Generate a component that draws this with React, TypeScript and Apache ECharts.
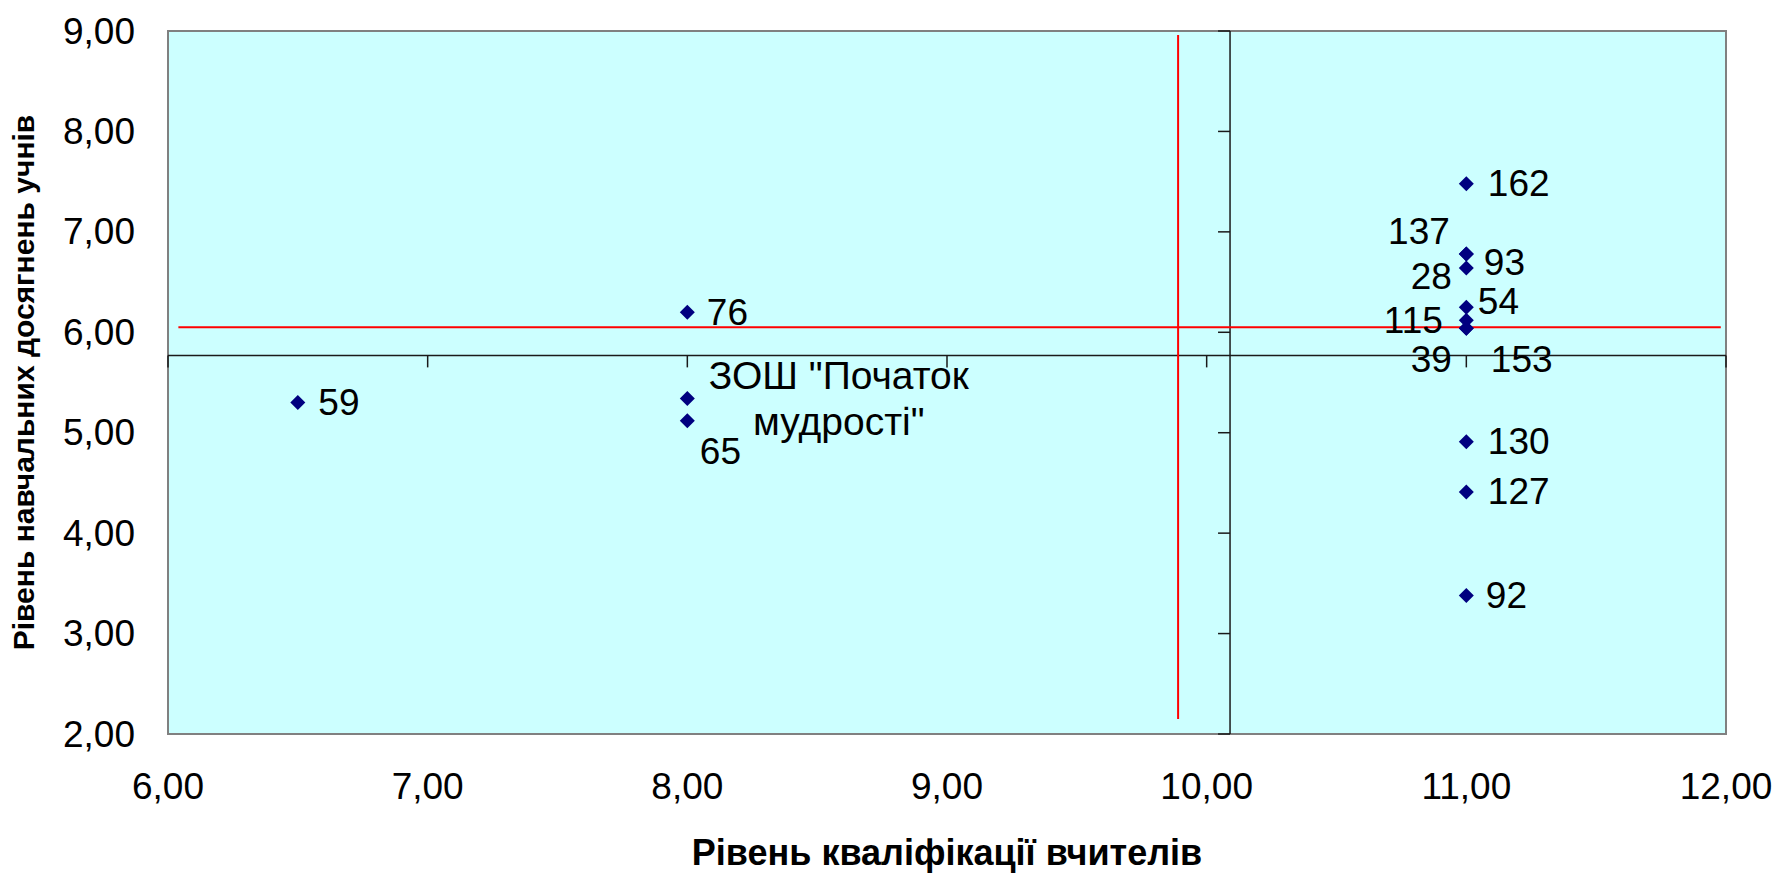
import React, { useEffect, useRef } from 'react';
import * as echarts from 'echarts';

// ---- data ----
const schoolNames = ['59', '76', 'ЗОШ "Початок\nмудрості"', '65', '162', '137', '93', '28', '54', '115', '39', '153', '130', '127', '92'];
const teacherLevel = [6.5, 8, 8, 8, 11, 11, 11, 11, 11, 11, 11, 11, 11, 11, 11];
const studentLevel = [5.3, 6.2, 5.34, 5.12, 7.48, 6.78, 6.78, 6.64, 6.25, 6.12, 6.04, 6.04, 4.91, 4.41, 3.38];
const xTicks = [6, 7, 8, 9, 10, 11, 12];
const yTicks = [2, 3, 4, 5, 6, 7, 8, 9];
const axisCross = [10.09, 5.77];
const redVertical = [[9.89, 2.15], [9.89, 8.96]];
const redHorizontal = [[6.04, 6.05], [11.98, 6.05]];

const xTitle = 'Рівень кваліфікації вчителів';
const yTitle = 'Рівень навчальних досягнень учнів';

// ---- label placement (styles) ----
const labelPlacement: any[] = [
  { position: 'right', distance: 13 },
  { position: 'right', distance: 12 },
  { position: 'right', distance: 144, align: 'center', lineHeight: 46, fontSize: 39 },
  { position: 'right', distance: 5, offset: [0, 31] },
  { position: 'right', distance: 14 },
  { position: 'left', distance: 9, offset: [0, -22] },
  { position: 'right', distance: 10, offset: [0, 9] },
  { position: 'left', distance: 7, offset: [0, 8] },
  { position: 'right', distance: 4, offset: [0, -6] },
  { position: 'left', distance: 16 },
  { position: 'left', distance: 7, offset: [0, 31] },
  { position: 'right', distance: 17, offset: [0, 31] },
  { position: 'right', distance: 14 },
  { position: 'right', distance: 14 },
  { position: 'right', distance: 12 },
];

const FONT = "'Liberation Sans', Arial, sans-serif";
const fmt = (v: number) => v.toFixed(2).replace('.', ',');

export default function App() {
  const ref = useRef<HTMLDivElement>(null);
  useEffect(() => {
    if (!ref.current) return;
    const chart = echarts.init(ref.current, undefined, { renderer: 'svg' });
    const points = schoolNames.map((n, i) => ({
      name: n,
      value: [teacherLevel[i], studentLevel[i]],
      label: labelPlacement[i],
    }));
    chart.setOption({
      animation: false,
      backgroundColor: '#ffffff',
      textStyle: { fontFamily: FONT },
      grid: {
        left: 166,
        right: 54,
        top: 31,
        bottom: 139,
        show: true,
        backgroundColor: '#CCFFFF',
        borderColor: '#808080',
        borderWidth: 2,
        containLabel: false,
      },
      xAxis: {
        type: 'value',
        min: 6,
        max: 12,
        interval: 1,
        axisLine: { show: false },
        axisTick: { show: false },
        splitLine: { show: false },
        axisLabel: { formatter: fmt, color: '#000', fontSize: 37, fontFamily: FONT, margin: 34 },
        name: xTitle,
        nameLocation: 'middle',
        nameGap: 100,
        nameTextStyle: { color: '#000', fontSize: 36, fontWeight: 'bold', fontFamily: FONT },
      },
      yAxis: {
        type: 'value',
        min: 2,
        max: 9,
        interval: 1,
        axisLine: { show: false },
        axisTick: { show: false },
        splitLine: { show: false },
        axisLabel: { formatter: fmt, color: '#000', fontSize: 37, fontFamily: FONT, margin: 33 },
        name: yTitle,
        nameLocation: 'middle',
        nameGap: 130,
        nameTextStyle: { color: '#000', fontSize: 30, fontWeight: 'bold', fontFamily: FONT },
      },
      series: [
        {
          type: 'custom',
          z: 1,
          silent: true,
          data: [axisCross],
          renderItem: (params: any, api: any) => {
            const [cx, cy] = axisCross;
            const stroke = { stroke: '#1a1a1a', lineWidth: 1.5 };
            const children: any[] = [];
            const a = api.coord([xTicks[0], cy]);
            const b = api.coord([xTicks[xTicks.length - 1], cy]);
            children.push({ type: 'line', shape: { x1: a[0], y1: a[1], x2: b[0], y2: b[1] }, style: stroke });
            const c = api.coord([cx, yTicks[0]]);
            const d = api.coord([cx, yTicks[yTicks.length - 1]]);
            children.push({ type: 'line', shape: { x1: c[0], y1: c[1], x2: d[0], y2: d[1] }, style: stroke });
            xTicks.forEach((t) => {
              const p = api.coord([t, cy]);
              children.push({ type: 'line', shape: { x1: p[0], y1: p[1], x2: p[0], y2: p[1] + 12 }, style: stroke });
            });
            yTicks.forEach((t) => {
              const p = api.coord([cx, t]);
              children.push({ type: 'line', shape: { x1: p[0] - 12, y1: p[1], x2: p[0], y2: p[1] }, style: stroke });
            });
            return { type: 'group', children };
          },
        },
        {
          type: 'line',
          z: 2,
          data: redVertical,
          symbol: 'none',
          silent: true,
          lineStyle: { color: '#FF0000', width: 2 },
        },
        {
          type: 'line',
          z: 2,
          data: redHorizontal,
          symbol: 'none',
          silent: true,
          lineStyle: { color: '#FF0000', width: 2 },
        },
        {
          type: 'scatter',
          z: 3,
          symbol: 'diamond',
          symbolSize: 15,
          itemStyle: { color: '#000080', opacity: 1 },
          data: points,
          label: {
            show: true,
            formatter: '{b}',
            color: '#000',
            fontSize: 37,
            fontFamily: FONT,
          },
        },
      ],
    });
    return () => chart.dispose();
  }, []);
  return <div ref={ref} style={{ position: 'fixed', left: 0, top: 0, width: 1780, height: 875 }} />;
}
